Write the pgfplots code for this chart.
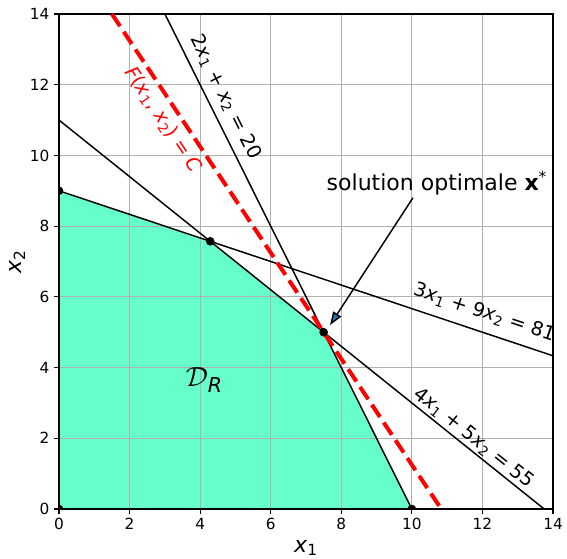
\documentclass[border=0pt]{standalone}
\usepackage{fontspec}
\setmainfont{DejaVu Sans}
\usepackage{pgfplots}
\pgfplotsset{compat=1.18}
\usetikzlibrary{arrows.meta}
\definecolor{aqua}{RGB}{102,255,204}
\definecolor{tabblue}{RGB}{31,119,180}
\definecolor{gridgray}{RGB}{176,176,176}
\newcommand{\xs}[1]{\textit{x}\textsubscript{#1}}

\begin{document}
\begin{tikzpicture}
\begin{axis}[
  set layers,
  width=370.5pt, height=371.25pt, scale only axis,
  xmin=0, xmax=14, ymin=0, ymax=14,
  xtick={0,2,...,14}, ytick={0,2,...,14},
  grid=major, grid style={gridgray, line width=0.8pt},
  axis line style={line width=0.8pt},
  tick style={black, line width=0.8pt},
  tick align=outside, tick pos=left, major tick length=3.6pt,
  tick label style={font=\fontsize{11.5}{13}\selectfont},
  /pgf/number format/assume math mode=true,
  xlabel={\xs{1}}, ylabel={\xs{2}},
  xlabel style={font=\fontsize{16.5}{18}\selectfont,
    at={([yshift=-32.5pt]axis description cs:0.5,0)}, anchor=base},
  ylabel style={font=\fontsize{16.5}{18}\selectfont,
    at={([xshift=-28pt]axis description cs:0,0.5)}, anchor=base},
  clip marker paths=true,
]
\coordinate (bl) at (rel axis cs:0,0);
\coordinate (tr) at (rel axis cs:1,1);

% domaine realisable
\addplot[fill=aqua, draw=none, on layer=axis background] coordinates {
  (0,0)(0,9)(4.2857,7.5714)(7.5,5)(10,0)(0,0)};

% contraintes
\addplot[black, line width=1.1pt] coordinates {(3,14)(10,0)};
\addplot[black, line width=1.1pt] coordinates {(0,9)(14,4.3333)};
\addplot[black, line width=1.1pt] coordinates {(0,11)(13.75,0)};

% fonction objectif
\addplot[red, line width=3pt, dash pattern=on 11pt off 5pt] coordinates {(1.5,14)(10.8333,0)};

% sommets
\addplot[only marks, mark=*, mark size=3pt, black] coordinates {
  (0,0)(0,9)(4.2857,7.5714)(7.5,5)(10,0)};

\draw[line width=1.1pt, -{Triangle[length=10pt, width=7pt, fill=tabblue]}]
  (axis cs:10.03,8.8) -- (axis cs:7.68,5.2);

\node[font=\fontsize{16.5}{19}\selectfont] at (axis cs:10.71,9.22)
  {solution optimale \textbf{x}\textsuperscript{*}};
\node[font=\fontsize{14.5}{17}\selectfont, rotate=-63.5] at (axis cs:4.72,11.65)
  {2\xs{1} + \xs{2} = 20};
\node[font=\fontsize{14.5}{17}\selectfont, rotate=-56.4, red] at (axis cs:2.95,11.0)
  {\textit{F}(\xs{1}, \xs{2}) = \textit{C}};
\node[font=\fontsize{14.5}{17}\selectfont, rotate=-18.4] at (axis cs:12.05,5.55)
  {3\xs{1} + 9\xs{2} = 81};
\node[font=\fontsize{14.5}{17}\selectfont, rotate=-38.7] at (axis cs:11.75,2.0)
  {4\xs{1} + 5\xs{2} = 55};
\node[font=\fontsize{22}{26}\selectfont] at (axis cs:4.12,3.65)
  {$\mathcal{D}$\textsubscript{\itshape R}};
\end{axis}
\pgfresetboundingbox
\path ([shift={(-44.25pt,-36.75pt)}]bl) rectangle ([shift={(10.5pt,10.5pt)}]tr);
\end{tikzpicture}
\end{document}
